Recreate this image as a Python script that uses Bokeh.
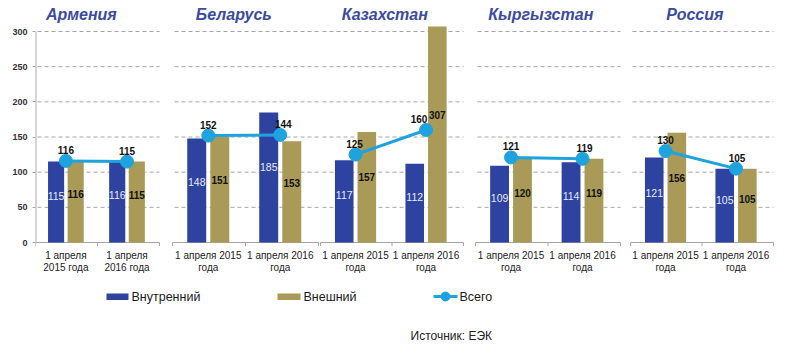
from bokeh.plotting import figure
from bokeh.models import Range1d, FixedTicker, ColumnDataSource
from bokeh.core.properties import value
from bokeh.embed import file_html
from bokeh.resources import INLINE

# ---------------- data ----------------
countries = ["Армения", "Беларусь", "Казахстан", "Кыргызстан", "Россия"]
date_labels_wide = ["1 апреля 2015\nгода", "1 апреля 2016\nгода"]
date_labels_narrow = ["1 апреля\n2015 года", "1 апреля\n2016 года"]

domestic_2015 = [115, 148, 117, 109, 121]
domestic_2016 = [116, 185, 112, 114, 105]
external_2015 = [116, 151, 157, 120, 156]
external_2016 = [115, 144, 307, 119, 105]
total_2015 = [116, 152, 125, 121, 130]
total_2016 = [115, 153, 160, 119, 105]

domestic_2015_labels = ["115", "148", "117", "109", "121"]
domestic_2016_labels = ["116", "185", "112", "114", "105"]
external_2015_labels = ["116", "151", "157", "120", "156"]
external_2016_labels = ["115", "153", "307", "119", "105"]
total_2015_labels = ["116", "152", "125", "121", "130"]
total_2016_labels = ["115", "144", "160", "119", "105"]

y_ticks = [0, 50, 100, 150, 200, 250, 300]
legend_labels = ["Внутренний", "Внешний", "Всего"]
source_text = "Источник: ЕЭК"

# ---------------- layout / style ----------------
W, H = 800, 354
FRAME_LEFT = 35
Y0_PX = 242.0
PX_PER_UNIT = 211.0 / 300.0
y_start = -(H - Y0_PX) / PX_PER_UNIT
y_end = Y0_PX / PX_PER_UNIT


def vy(px):
    return (Y0_PX - px) / PX_PER_UNIT


group_start = [35, 172, 320, 475, 630]
group_width = [124, 146, 143, 145, 143]
title_frac = [0.37, 0.42, 0.45, 0.45, 0.45]
# horizontal nudge (px) of the total labels, [group][period]
total_label_dx = [[0, 0], [0, 3], [-1, -7], [0, 2], [0, 1]]

C_DOM = "#2e43a0"
C_EXT = "#a99b57"
C_TOT = "#1ea3de"
C_GRID = "#a6a6a6"
C_TITLE = "#3b4ba0"
SANS = "Liberation Sans"

p = figure(width=W, height=H, x_range=Range1d(FRAME_LEFT, W),
           y_range=Range1d(y_start, y_end), output_backend="svg",
           toolbar_location=None, x_axis_location=None,
           min_border_left=FRAME_LEFT, min_border_right=0,
           min_border_top=0, min_border_bottom=0)
p.outline_line_color = None
p.xgrid.visible = False
p.ygrid.visible = False
ax = p.yaxis[0]
ax.ticker = FixedTicker(ticks=y_ticks)
ax.axis_line_color = None
ax.major_tick_line_color = C_GRID
ax.major_tick_out = 3
ax.major_tick_in = 0
ax.minor_tick_line_color = None
ax.major_label_text_font_size = "9px"
ax.major_label_text_font_style = "bold"
ax.major_label_text_color = "#333333"
ax.major_label_text_font = SANS
ax.major_label_standoff = 5

# gridlines, baselines, baseline ticks
gx0, gx1, gy = [], [], []
bx0, bx1 = [], []
tx = []
for s, w in zip(group_start, group_width):
    for t in y_ticks[1:]:
        gx0.append(s + 2)
        gx1.append(s + w)
        gy.append(t)
    bx0.append(s)
    bx1.append(s + w)
    tx += [s, s + w / 2.0, s + w]
p.segment(x0=gx0, x1=gx1, y0=gy, y1=gy, line_color=C_GRID, line_width=1,
          line_dash="4 3")
p.segment(x0=bx0, x1=bx1, y0=[0] * 5, y1=[0] * 5, line_color=C_GRID, line_width=1.2)
p.segment(x0=tx, x1=tx, y0=[0] * len(tx), y1=[-5] * len(tx), line_color=C_GRID,
          line_width=1)
p.segment(x0=[FRAME_LEFT], x1=[FRAME_LEFT], y0=[0], y1=[300], line_color="#b0b0b0",
          line_width=2)

# positions per group
OFF_D = [0.166, 0.659]
OFF_E = [0.324, 0.817]
OFF_C = [0.245, 0.738]
BW = 0.13

dom_vals = [domestic_2015, domestic_2016]
ext_vals = [external_2015, external_2016]
tot_vals = [total_2015, total_2016]
dom_lab = [domestic_2015_labels, domestic_2016_labels]
ext_lab = [external_2015_labels, external_2016_labels]
tot_lab = [total_2015_labels, total_2016_labels]

bars_d = dict(x=[], top=[], w=[], lab=[], ly=[])
bars_e = dict(x=[], top=[], w=[], lab=[], ly=[])
tot_pts = dict(x=[], y=[], lab=[], lx=[])
cat = dict(x=[], text=[])
for g, (s, w) in enumerate(zip(group_start, group_width)):
    for k in range(2):
        bars_d["x"].append(s + OFF_D[k] * w)
        bars_d["top"].append(dom_vals[k][g])
        bars_d["w"].append(BW * w)
        bars_d["lab"].append(dom_lab[k][g])
        bars_d["ly"].append(dom_vals[k][g] * 0.58)
        bars_e["x"].append(s + OFF_E[k] * w)
        bars_e["top"].append(ext_vals[k][g])
        bars_e["w"].append(BW * w)
        bars_e["lab"].append(ext_lab[k][g])
        bars_e["ly"].append(ext_vals[k][g] * 0.59)
        tot_pts["x"].append(s + OFF_C[k] * w)
        tot_pts["y"].append(tot_vals[k][g])
        tot_pts["lab"].append(tot_lab[k][g])
        tot_pts["lx"].append(s + OFF_C[k] * w + total_label_dx[g][k])
        cat["x"].append(s + OFF_C[k] * w)
        cat["text"].append((date_labels_narrow if g == 0 else date_labels_wide)[k])

sd = ColumnDataSource(bars_d)
se = ColumnDataSource(bars_e)
p.vbar(x="x", top="top", width="w", bottom=0, source=sd, fill_color=C_DOM,
       line_color=None)
p.vbar(x="x", top="top", width="w", bottom=0, source=se, fill_color=C_EXT,
       line_color=None)
p.text(x="x", y="ly", text="lab", source=sd, text_color="#e8ecff",
       text_font_size="10.5px", text_align="center", text_baseline="middle",
       text_font=value(SANS))
p.text(x="x", y="ly", text="lab", source=se, text_color="#111111",
       text_font_size="10px", text_font_style="bold", text_align="center",
       text_baseline="middle", text_font=value(SANS))

for g in range(5):
    xs = tot_pts["x"][2 * g:2 * g + 2]
    ys = tot_pts["y"][2 * g:2 * g + 2]
    p.line(xs, ys, line_color=C_TOT, line_width=3)
st = ColumnDataSource(tot_pts)
p.scatter(x="x", y="y", source=st, size=13, fill_color=C_TOT, line_color=C_TOT)
p.text(x="lx", y="y", text="lab", source=st, text_color="#111111",
       text_font_size="10px", text_font_style="bold", text_align="center",
       text_baseline="bottom", y_offset=-7, text_font=value(SANS))

# category labels
p.text(x=cat["x"], y=[vy(249)] * len(cat["x"]), text=cat["text"],
       text_color="#222222", text_font_size="10px", text_align="center",
       text_baseline="top", text_line_height=1.1, text_font=value(SANS))

# country titles
p.text(x=[s + f * w for s, w, f in zip(group_start, group_width, title_frac)],
       y=[vy(14)] * 5, text=countries, text_color=C_TITLE,
       text_font_size="16px", text_font_style="bold italic", text_align="center",
       text_baseline="middle", text_font=value(SANS))

# legend
p.quad(left=[106, 277], right=[128, 300], top=[vy(293)] * 2, bottom=[vy(299.5)] * 2,
       fill_color=[C_DOM, C_EXT], line_color=None)
p.line([433, 457], [vy(296)] * 2, line_color=C_TOT, line_width=3)
p.scatter([445], [vy(296)], size=9, fill_color=C_TOT, line_color=C_TOT)
p.text(x=[131, 303, 459], y=[vy(296.5)] * 3, text=legend_labels,
       text_color="#1a1a1a", text_font_size="12.5px", text_align="left",
       text_baseline="middle", text_font=value(SANS))

p.text(x=[410], y=[vy(335)], text=[source_text], text_color="#222222",
       text_font_size="12px", text_align="left", text_baseline="middle",
       text_font=value(SANS))

open("out.html", "w").write(file_html(p, INLINE))
